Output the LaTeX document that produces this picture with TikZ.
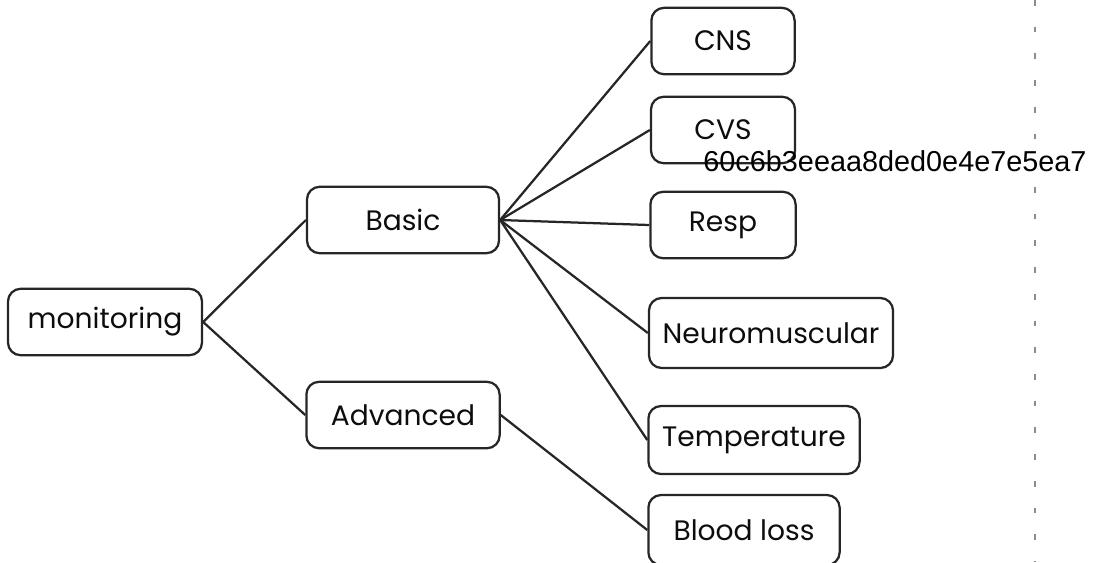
\documentclass[tikz,border=0pt]{standalone}
\usepackage{fontspec}
\setmainfont{Poppins}
\newfontfamily\hashfont{Liberation Sans}
\begin{document}
\begin{tikzpicture}[x=0.025cm,y=-0.025cm,
    box/.style={draw=black!85,line width=1.6pt,rounded corners=9pt,inner sep=0pt,
      minimum height=1.66cm,font=\fontsize{20}{24}\selectfont,text=black!95},
    link/.style={draw=black!85,line width=1.6pt}]
    \clip (0,0) rectangle (1096,562);
    % dashed margin line
    \draw[black!45,line width=1pt,dash pattern=on 4pt off 15pt] (1035,0) coordinate (mtop) -- (1035,562) coordinate (mbot);
    % nodes
    \node[box,minimum width=4.85cm] (mon) at (105,322) {monitoring};
    \node[box,minimum width=4.8cm] (basic) at (403,220) {Basic};
    \node[box,minimum width=4.83cm] (adv) at (403,415) {Advanced};
    \node[box,minimum width=3.58cm] (cns) at (723,41) {CNS};
    \node[box,minimum width=3.6cm] (cvs) at (723,130) {CVS};
    \node[box,minimum width=3.63cm] (resp) at (723,225) {Resp};
    \node[box,minimum width=6.1cm,minimum height=1.75cm] (neuro) at (771,333) {Neuromuscular};
    \node[box,minimum width=5.28cm,minimum height=1.7cm] (temp) at (754,440) {Temperature};
    \node[box,minimum width=4.78cm,minimum height=1.75cm] (blood) at (744,530) {Blood loss};
    \node[font=\hashfont\fontsize{20.5}{24}\selectfont,text=black,inner sep=0pt] (hash) at (895,161) {60c6b3eeaa8ded0e4e7e5ea7};
    % connectors
    \draw[link] (mon.east) -- (basic.west);
    \draw[link] (mon.east) -- (adv.west);
    \foreach \n in {cns,cvs,resp,neuro,temp}
        \draw[link] (basic.east) -- (\n.west);
    \draw[link] (adv.east) -- (blood.west);
\end{tikzpicture}
\end{document}
